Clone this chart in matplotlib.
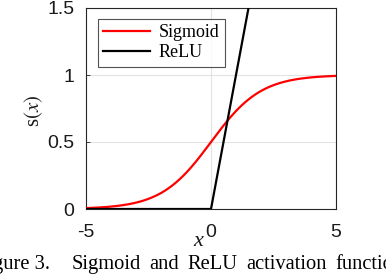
import numpy as np
import matplotlib
matplotlib.use("Agg")
import matplotlib.pyplot as plt

plt.rcParams["mathtext.fontset"] = "stix"

x_vals = np.linspace(-5, 5, 401)
sigmoid_vals = 1.0 / (1.0 + np.exp(-x_vals))
relu_vals = np.maximum(0.0, x_vals)
xticks = [-5, 0, 5]
xtick_labels = ["-5", "0", "5"]
yticks = [0, 0.5, 1, 1.5]
ytick_labels = ["0", "0.5", "1", "1.5"]
series_labels = ["Sigmoid", "ReLU"]
caption_label = "Figure 3."
caption_body = "Sigmoid and ReLU activation functions."

W, H = 386, 278
fig = plt.figure(figsize=(W / 100, H / 100), dpi=100)
ax = fig.add_axes([86/W, 69/H, 250/W, 201/H])

ax.plot(x_vals, sigmoid_vals, color="#ff0000", lw=1.6, label=series_labels[0], zorder=3)
ax.plot(x_vals, relu_vals, color="black", lw=1.6, label=series_labels[1], zorder=3)

ax.set_xlim(-5, 5)
ax.set_ylim(0, 1.5)
ax.set_xticks(xticks)
ax.set_xticklabels(xtick_labels)
ax.set_yticks(yticks)
ax.set_yticklabels(ytick_labels)
ax.grid(True, color="#e3e3e3", lw=0.8)
ax.set_axisbelow(True)
ax.tick_params(direction="in", length=3, width=0.6, colors="#262626",
               labelsize=14)
ax.tick_params(axis="y", pad=8.5)
ax.tick_params(axis="x", pad=10.5)
for lab in ax.get_xticklabels() + ax.get_yticklabels():
    lab.set_fontfamily("Liberation Sans")
    lab.set_color("#1a1a1a")
for s in ax.spines.values():
    s.set_color("#262626")
    s.set_linewidth(0.8)

ax.set_ylabel(r"s$(x)$", fontsize=15, family="Liberation Serif",
              color="#1a1a1a")
ax.yaxis.set_label_coords(-0.165, 0.49)
fig.text(198/W, 1 - 242/H, "x", fontsize=16, family="Liberation Serif",
         style="italic", ha="center", va="center", color="#1a1a1a")

leg = ax.legend(loc="upper left", bbox_to_anchor=(0.048, 0.945),
                prop={"family": "Liberation Serif", "size": 13},
                frameon=True, fancybox=False, handlelength=2.6,
                handletextpad=0.45, borderpad=0.3, labelspacing=0.15,
                borderaxespad=0)
leg.get_frame().set_edgecolor("#262626")
leg.get_frame().set_linewidth(0.8)

# justified caption: words with stretched inter-word gaps
cap_size = 14.8
base_y = 1 - 269/H
fig.text(50/W, base_y, caption_label, fontsize=cap_size,
         family="Liberation Serif", ha="right", va="baseline", color="black")
renderer = fig.canvas.get_renderer()
xpos = 72.0
for word in caption_body.split():
    t = fig.text(xpos / W, base_y, word, fontsize=cap_size,
                 family="Liberation Serif", ha="left", va="baseline",
                 color="black")
    xpos += t.get_window_extent(renderer).width + 8.5

fig.savefig("out.png", dpi=100)
